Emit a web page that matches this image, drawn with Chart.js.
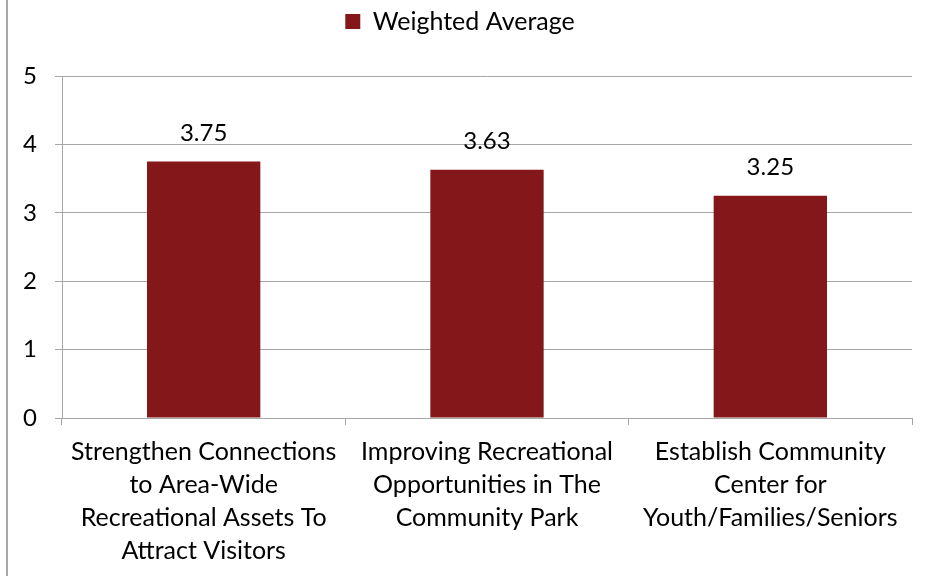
<!DOCTYPE html>
<html>
<head>
<meta charset="utf-8">
<script src="https://cdn.jsdelivr.net/npm/chart.js@4.4.1/dist/chart.umd.min.js"></script>
<style>
  html, body { margin: 0; padding: 0; background: #fff; }
  #wrap {
    position: absolute; left: 6px; top: 0;
    width: 918px; height: 576px;
    border-left: 2px solid #a6a6a6;
  }
</style>
</head>
<body>
<div id="wrap"><canvas id="chart" width="918" height="576"></canvas></div>
<script>
// Dados do gráfico
const categories = [
    ['Strengthen Connections', 'to Area-Wide', 'Recreational Assets To', 'Attract Visitors'],
    ['Improving Recreational', 'Opportunities in The', 'Community Park'],
    ['Establish Community', 'Center for', 'Youth/Families/Seniors']
];
const weightedAverage = [3.75, 3.63, 3.25];
const yTicks = [0, 1, 2, 3, 4, 5];

const barColor = '#84171a';
const gridColor = '#a6a6a6';
const fontFamily = 'Lato, "Open Sans", sans-serif';
const fontSize = 24;

// Rótulos de valor acima das barras
const valueLabels = {
    id: 'valueLabels',
    afterDatasetsDraw(chart) {
        const ctx = chart.ctx;
        ctx.save();
        ctx.font = fontSize + 'px ' + fontFamily;
        ctx.fillStyle = '#000';
        ctx.textAlign = 'center';
        ctx.textBaseline = 'middle';
        chart.getDatasetMeta(0).data.forEach((bar, i) => {
            ctx.fillText(weightedAverage[i].toFixed(2), bar.x, bar.y - 28);
        });
        ctx.restore();
    }
};

// Espaço extra abaixo da legenda
const legendSpacing = {
    id: 'legendSpacing',
    afterInit(chart) {
        const legend = chart.legend;
        if (!legend) return;
        const fit = legend.fit;
        legend.fit = function() {
            fit.call(this);
            this.height += 32;
        };
    }
};

new Chart(document.getElementById('chart'), {
    type: 'bar',
    data: {
        labels: categories,
        datasets: [{
            label: 'Weighted Average',
            data: weightedAverage,
            backgroundColor: barColor,
            borderWidth: 0,
            categoryPercentage: 1,
            barPercentage: 0.4
        }]
    },
    options: {
        responsive: false,
        animation: false,
        layout: { padding: { top: 0, right: 14, left: 0, bottom: 0 } },
        plugins: {
            legend: {
                position: 'top',
                labels: {
                    color: '#000',
                    font: { family: fontFamily, size: 25 },
                    boxWidth: 15,
                    boxHeight: 15,
                    padding: 9
                }
            },
            tooltip: { enabled: false }
        },
        scales: {
            x: {
                grid: {
                    offset: true,
                    drawOnChartArea: false,
                    drawTicks: true,
                    tickLength: 7,
                    color: gridColor
                },
                border: { color: gridColor, width: 1 },
                ticks: {
                    color: '#000',
                    font: { family: fontFamily, size: 25, lineHeight: 33 / 25 },
                    padding: 10,
                    maxRotation: 0,
                    autoSkip: false
                },
                afterFit(scale) { scale.height = 158; }
            },
            y: {
                min: 0,
                max: 5,
                afterBuildTicks(scale) {
                    scale.ticks = yTicks.map(v => ({ value: v }));
                },
                grid: { color: gridColor, tickLength: 7 },
                border: { color: gridColor, width: 1 },
                ticks: {
                    color: '#000',
                    font: { family: fontFamily, size: fontSize },
                    padding: 18
                },
                afterFit(scale) { scale.width = 54; }
            }
        }
    },
    plugins: [valueLabels, legendSpacing]
});
</script>
</body>
</html>
